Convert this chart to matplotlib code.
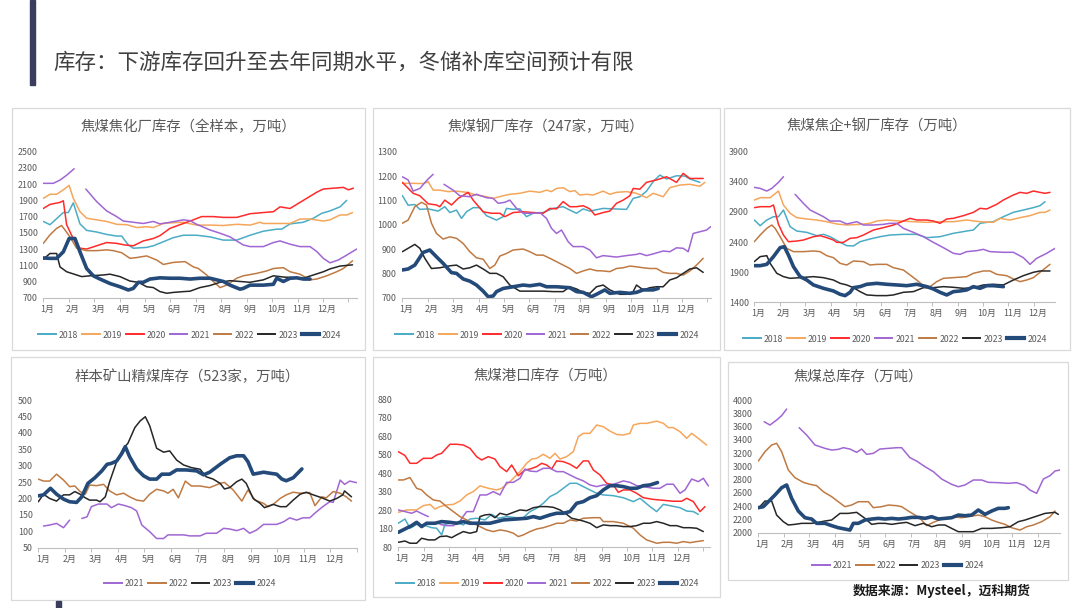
import numpy as np
import matplotlib
matplotlib.use("Agg")
import matplotlib.pyplot as plt
from matplotlib.patches import Rectangle
from matplotlib.lines import Line2D

plt.rcParams['font.family'] = ['Noto Sans CJK SC', 'DejaVu Sans']

# ---------------- DATA (day of year, value); None = gap ----------------
months = ["1月", "2月", "3月", "4月", "5月", "6月", "7月", "8月", "9月", "10月", "11月", "12月"]
years7 = ["2018", "2019", "2020", "2021", "2022", "2023", "2024"]
years4 = ["2021", "2022", "2023", "2024"]

# Panel 1: 焦煤焦化厂库存（全样本，万吨）
p1_2018 = [(0,1640),(8,1600),(24,1750),(30,1750),(36,1870),(44,1610),(52,1530),(64,1510),(76,1480),(88,1460),(94,1460),(102,1350),(108,1310),(124,1320),(132,1340),(144,1390),(156,1440),(168,1470),(184,1470),(200,1450),(216,1410),(232,1410),(248,1470),(264,1520),(280,1545),(286,1545),(296,1610),(312,1630),(324,1680),(334,1740),(344,1770),(356,1820),(364,1900)]
p1_2019 = [(0,1925),(8,1975),(16,1975),(24,2030),(31,2085),(36,1925),(44,1760),(52,1680),(64,1660),(76,1640),(88,1605),(100,1600),(112,1565),(124,1575),(132,1565),(144,1615),(156,1625),(168,1630),(184,1595),(200,1595),(216,1590),(232,1605),(248,1595),(260,1630),(264,1615),(280,1615),(296,1615),(308,1670),(320,1670),(336,1645),(344,1660),(356,1720),(364,1720),(371,1750)]
p1_2020 = [(0,1800),(8,1850),(20,1875),(24,1895),(28,1600),(34,1470),(40,1350),(44,1310),(52,1300),(64,1340),(76,1380),(88,1370),(98,1350),(108,1340),(120,1400),(132,1430),(140,1465),(152,1555),(168,1615),(180,1660),(190,1700),(204,1700),(216,1690),(232,1690),(248,1735),(264,1750),(276,1760),(284,1820),(296,1800),(308,1875),(316,1925),(328,2000),(336,2040),(348,2050),(360,2060),(366,2030),(372,2050)]
p1_2021 = [(0,2110),(12,2110),(20,2150),(28,2210),(37,2290),(44,None),(51,2040),(64,1885),(76,1770),(88,1700),(96,1645),(108,1630),(120,1615),(132,1640),(140,1610),(152,1630),(168,1660),(176,1650),(184,1605),(200,1535),(212,1495),(224,1450),(240,1350),(248,1330),(264,1330),(276,1380),(280,1390),(284,1400),(296,1360),(308,1330),(320,1330),(328,1270),(336,1185),(344,1130),(354,1165),(364,1225),(376,1300)]
p1_2022 = [(0,1370),(8,1475),(16,1555),(22,1590),(26,1535),(32,1450),(40,1310),(52,1280),(64,1280),(76,1290),(84,1280),(94,1255),(104,1185),(112,1195),(124,1215),(136,1165),(144,1110),(156,1135),(170,1145),(180,1080),(186,1060),(196,980),(204,900),(212,825),(220,855),(232,940),(240,970),(256,1000),(268,1030),(276,1060),(288,1070),(296,1020),(308,990),(320,920),(328,930),(340,970),(352,1020),(360,1060),(371,1155)]
p1_2023 = [(0,1175),(8,1245),(16,1245),(20,1080),(28,1020),(40,980),(46,960),(56,970),(72,980),(80,990),(92,960),(104,905),(114,890),(124,835),(132,825),(140,775),(148,755),(156,765),(168,775),(176,780),(188,825),(200,850),(212,890),(224,910),(236,900),(248,890),(264,920),(276,970),(288,955),(304,945),(312,940),(324,980),(336,1020),(344,1055),(356,1090),(371,1105)]
p1_2024 = [(0,1190),(8,1185),(16,1185),(24,1265),(31,1430),(38,1430),(44,1265),(52,1060),(60,970),(68,930),(80,875),(92,835),(102,795),(108,815),(114,890),(120,890),(128,930),(140,945),(152,940),(164,940),(176,930),(188,940),(200,940),(208,920),(216,900),(224,855),(236,805),(240,815),(248,855),(264,855),(276,865),(280,940),(288,900),(296,940),(304,945),(312,930),(320,930)]

# Panel 2: 焦煤钢厂库存（247家，万吨）
p2_2018 = [(0,1120),(7,1080),(15,1083),(21,1063),(31,1065),(43,1056),(51,1074),(57,1050),(65,1060),(71,1026),(77,1053),(85,1070),(93,1070),(101,1037),(113,1019),(121,1033),(125,1067),(133,1063),(141,1065),(149,1033),(157,1047),(169,1050),(181,1067),(193,1074),(201,1060),(209,1047),(217,1065),(225,1056),(241,1067),(253,1065),(269,1063),(277,1108),(285,1115),(293,1138),(301,1177),(309,1204),(317,1188),(329,1201),(339,1200),(345,1188),(357,1174)]
p2_2019 = [(0,1170),(13,1170),(25,1169),(31,1177),(37,1142),(45,1142),(55,1136),(65,1138),(77,1133),(89,1122),(101,1115),(109,1108),(121,1119),(129,1125),(141,1129),(153,1138),(165,1133),(173,1142),(179,1136),(185,1149),(193,1152),(201,1136),(207,1140),(213,1122),(221,1125),(229,1122),(241,1138),(249,1125),(257,1133),(269,1136),(281,1129),(293,1111),(301,1129),(313,1115),(321,1152),(333,1163),(345,1166),(357,1158),(363,1174)]
p2_2020 = [(0,1174),(13,1129),(21,1119),(31,1086),(41,1081),(45,1074),(51,1101),(59,1081),(67,1108),(79,1133),(85,1101),(97,1053),(107,1047),(117,1047),(123,1033),(133,1050),(145,1053),(157,1050),(169,1047),(177,1067),(185,1065),(193,1095),(201,1074),(209,1074),(217,1078),(225,1065),(231,1040),(241,1050),(249,1056),(257,1088),(265,1101),(273,1119),(277,1149),(285,1146),(293,1174),(305,1184),(317,1197),(329,1174),(337,1211),(345,1190),(361,1190)]
p2_2021 = [(0,1197),(7,1184),(13,1138),(21,1149),(31,1188),(37,1207),(44,None),(50,1166),(61,1142),(69,1119),(81,1115),(89,1125),(101,1111),(109,1108),(115,1088),(123,1092),(129,1101),(137,1067),(145,1047),(157,1047),(165,1050),(173,1026),(179,985),(185,964),(191,978),(199,930),(205,910),(217,910),(225,896),(233,864),(241,873),(257,867),(269,873),(281,878),(285,882),(293,873),(301,880),(313,892),(321,889),(329,905),(337,903),(343,889),(349,964),(357,971),(365,978),(370,992)]
p2_2022 = [(0,1006),(7,1019),(15,1074),(23,1092),(29,1081),(35,1006),(41,964),(49,941),(57,950),(65,944),(73,923),(81,889),(89,864),(97,858),(105,820),(111,834),(117,871),(125,882),(133,896),(145,900),(153,889),(161,875),(169,875),(177,862),(185,848),(193,834),(201,820),(209,800),(217,810),(225,818),(233,811),(241,810),(249,807),(257,820),(265,823),(273,830),(281,827),(289,823),(297,820),(305,820),(313,804),(321,800),(329,800),(337,793),(345,810),(353,834),(361,862)]
p2_2023 = [(0,889),(7,903),(15,919),(21,903),(27,862),(35,820),(45,823),(57,831),(65,834),(73,818),(81,823),(89,834),(97,818),(105,800),(113,800),(121,786),(129,752),(141,727),(153,727),(169,727),(181,725),(193,725),(201,745),(209,736),(217,722),(225,718),(233,745),(241,752),(249,732),(261,714),(269,714),(277,725),(281,752),(289,732),(297,741),(305,745),(313,745),(321,773),(329,782),(337,800),(345,818),(353,823),(361,804)]
p2_2024 = [(0,814),(7,818),(15,834),(25,886),(33,896),(41,868),(49,841),(59,803),(65,800),(73,777),(81,768),(89,752),(97,727),(103,704),(109,707),(113,725),(121,738),(133,745),(145,752),(153,749),(165,755),(173,745),(185,745),(201,741),(209,725),(217,722),(227,704),(233,714),(243,732),(249,718),(261,722),(273,718),(281,722),(289,732),(301,732),(307,738)]

# Panel 3: 焦煤焦企+钢厂库存（万吨）
p3_2018 = [(0,2766),(7,2672),(15,2766),(23,2821),(29,2821),(35,2932),(43,2655),(51,2583),(63,2561),(75,2506),(83,2528),(91,2489),(103,2395),(111,2340),(119,2335),(127,2406),(139,2451),(151,2489),(163,2517),(179,2528),(195,2528),(207,2473),(223,2489),(239,2545),(255,2583),(263,2600),(271,2711),(279,2727),(287,2738),(299,2821),(311,2893),(323,2932),(335,2971),(343,3004),(349,3070)]
p3_2019 = [(0,3098),(7,3136),(19,3136),(29,3247),(35,3015),(43,2877),(51,2805),(63,2783),(75,2766),(87,2738),(99,2700),(111,2683),(127,2694),(139,2711),(147,2749),(159,2766),(175,2749),(191,2738),(207,2727),(223,2738),(239,2738),(255,2766),(271,2738),(287,2727),(295,2794),(307,2766),(319,2805),(331,2838),(343,2893),(349,2893),(355,2932)]
p3_2020 = [(0,2971),(7,2987),(19,2987),(23,3015),(29,2694),(35,2517),(41,2406),(51,2417),(59,2434),(71,2489),(79,2506),(87,2473),(95,2434),(99,2395),(107,2395),(115,2462),(123,2473),(131,2517),(143,2600),(155,2639),(167,2683),(179,2749),(187,2794),(195,2766),(207,2766),(215,2749),(223,2711),(231,2783),(239,2794),(251,2838),(263,2893),(271,2960),(279,2949),(291,3026),(299,3098),(311,3181),(319,3225),(327,3209),(335,3247),(343,3225),(349,3209),(355,3225)]
p3_2021 = [(0,3308),(7,3291),(15,3247),(21,3291),(29,3391),(35,3485),(42,None),(49,3192),(59,3042),(67,2932),(75,2877),(83,2821),(91,2749),(103,2749),(111,2700),(123,2738),(131,2683),(143,2683),(155,2694),(163,2711),(171,2711),(179,2628),(191,2561),(203,2489),(215,2395),(227,2307),(239,2213),(247,2196),(255,2241),(267,2257),(275,2279),(283,2241),(299,2230),(311,2230),(323,2141),(331,2030),(339,2130),(351,2213),(361,2296)]
p3_2022 = [(0,2406),(7,2517),(15,2628),(21,2683),(25,2628),(31,2489),(39,2296),(47,2241),(59,2241),(71,2252),(79,2241),(87,2174),(95,2141),(103,2047),(111,2019),(119,2086),(131,2075),(139,2019),(147,2030),(159,2030),(167,1975),(179,1936),(187,1853),(195,1770),(203,1676),(211,1660),(219,1743),(227,1798),(239,1809),(255,1826),(263,1881),(275,1920),(283,1920),(291,1864),(303,1842),(311,1787),(319,1743),(327,1770),(335,1809),(343,1898),(355,2030)]
p3_2023 = [(0,2075),(7,2158),(15,2174),(19,2047),(27,1881),(35,1826),(43,1798),(55,1809),(71,1826),(83,1809),(95,1770),(103,1715),(111,1688),(119,1643),(127,1577),(135,1522),(147,1511),(159,1511),(167,1522),(179,1566),(191,1577),(203,1643),(215,1643),(227,1660),(239,1649),(251,1632),(263,1643),(275,1688),(287,1699),(299,1688),(311,1770),(323,1842),(335,1898),(343,1920),(355,1920)]
p3_2024 = [(0,2008),(7,2008),(15,2030),(23,2158),(31,2307),(36,2323),(41,2185),(47,1992),(55,1826),(63,1770),(71,1688),(83,1632),(95,1588),(103,1533),(109,1511),(115,1566),(119,1643),(127,1660),(135,1699),(147,1715),(159,1699),(171,1688),(183,1676),(195,1699),(207,1660),(215,1621),(223,1566),(231,1522),(239,1577),(247,1588),(255,1605),(263,1660),(271,1632),(279,1676),(287,1676),(299,1660)]

# Panel 4: 样本矿山精煤库存（523家，万吨）
p4_2021 = [(6,116),(13,119),(21,124),(29,111),(36,134),(43,None),(50,139),(56,144),(61,175),(69,183),(79,183),(84,172),(92,183),(100,178),(107,172),(113,162),(119,119),(128,99),(136,78),(144,78),(149,89),(159,89),(167,89),(174,86),(186,86),(193,94),(205,94),(213,109),(220,107),(228,102),(236,109),(243,94),(251,104),(259,121),(266,121),(274,121),(282,129),(289,141),(297,134),(304,141),(312,141),(320,160),(327,175),(335,190),(339,188),(347,256),(352,243),(358,253),(366,248)]
p4_2022 = [(0,259),(6,253),(13,253),(21,274),(29,256),(36,236),(42,238),(48,221),(54,213),(59,241),(67,239),(75,243),(82,223),(90,211),(98,216),(105,205),(113,195),(121,192),(128,213),(136,228),(144,223),(149,216),(155,228),(161,202),(169,253),(176,238),(186,238),(197,233),(209,246),(214,249),(224,226),(234,192),(241,226),(249,195),(259,185),(264,175),(270,182),(278,200),(285,211),(293,219),(301,216),(312,218),(318,178),(326,205),(331,202),(339,221),(347,216),(354,205),(360,192)]
p4_2023 = [(0,190),(6,213),(13,200),(21,192),(29,211),(36,211),(42,221),(48,213),(54,202),(59,195),(67,195),(71,190),(77,205),(82,251),(90,312),(98,353),(103,368),(111,416),(117,436),(123,449),(128,422),(136,353),(144,341),(151,345),(159,317),(167,302),(176,294),(186,289),(193,266),(201,259),(209,246),(214,229),(220,233),(228,251),(234,259),(239,246),(247,200),(255,185),(260,172),(270,182),(278,175),(285,175),(293,195),(301,213),(308,219),(316,211),(326,202),(335,192),(343,200),(350,211),(352,223),(360,205)]
p4_2024 = [(0,208),(6,211),(14,231),(21,213),(29,198),(36,190),(44,188),(50,205),(57,246),(65,263),(73,284),(79,304),(84,307),(90,314),(96,337),(100,358),(105,327),(113,290),(121,269),(128,259),(136,259),(142,274),(151,274),(159,287),(170,287),(182,284),(190,272),(197,280),(209,304),(220,324),(228,330),(236,330),(241,312),(247,274),(259,280),(266,277),(274,274),(280,259),(285,254),(293,263),(303,290)]

# Panel 5: 焦煤港口库存（万吨）
p5_2018 = [(0,210),(8,233),(14,183),(22,204),(30,201),(40,186),(46,183),(52,147),(56,204),(62,210),(70,215),(78,201),(86,233),(94,237),(104,228),(112,258),(120,237),(130,246),(142,240),(150,240),(158,273),(166,291),(174,318),(182,354),(190,372),(198,399),(206,426),(214,426),(222,408),(230,390),(238,372),(246,363),(258,359),(270,348),(282,327),(290,345),(302,300),(310,273),(318,312),(326,305),(338,294),(346,276),(354,273),(360,258)]
p5_2019 = [(0,269),(10,282),(22,282),(30,305),(38,312),(44,287),(50,300),(58,309),(66,312),(74,330),(82,363),(90,381),(98,412),(108,399),(118,390),(124,399),(134,435),(146,489),(154,534),(160,557),(166,561),(174,583),(182,561),(188,588),(194,557),(202,570),(210,597),(216,678),(222,696),(230,696),(238,741),(246,732),(254,708),(262,690),(270,687),(278,696),(282,741),(290,750),(298,750),(310,762),(318,750),(324,727),(330,727),(338,705),(346,669),(352,696),(360,669),(366,647),(370,633)]
p5_2020 = [(0,597),(8,576),(14,534),(22,534),(30,561),(40,561),(46,579),(52,588),(62,637),(70,637),(78,633),(86,615),(94,570),(100,552),(108,570),(116,557),(122,516),(130,489),(136,525),(144,467),(152,498),(158,503),(166,516),(172,534),(178,525),(184,503),(190,547),(198,543),(206,529),(214,507),(222,547),(228,547),(234,498),(242,471),(250,426),(258,417),(264,377),(270,390),(278,390),(286,372),(294,348),(306,339),(318,334),(330,329),(340,329),(346,345),(354,327),(362,273),(368,300)]
p5_2021 = [(0,282),(8,273),(16,264),(22,276),(30,258),(36,246),(43,None),(50,204),(58,197),(66,197),(74,222),(82,273),(90,273),(98,363),(106,363),(114,381),(122,363),(130,431),(138,431),(146,453),(152,503),(158,492),(166,489),(174,507),(182,507),(190,489),(198,489),(206,471),(214,453),(222,439),(230,417),(238,408),(246,417),(254,417),(262,426),(270,439),(278,431),(286,413),(294,408),(306,399),(314,399),(322,421),(330,421),(338,372),(344,390),(352,449),(360,435),(366,453),(372,412)]
p5_2022 = [(0,444),(6,444),(14,457),(22,399),(28,390),(34,363),(42,336),(50,330),(58,300),(66,273),(74,246),(82,228),(90,210),(98,192),(106,174),(114,165),(122,174),(130,168),(138,156),(144,138),(150,147),(158,165),(166,179),(174,186),(182,197),(190,210),(198,210),(206,228),(214,222),(222,237),(234,240),(242,240),(246,219),(258,219),(270,210),(282,183),(290,147),(298,120),(310,102),(318,107),(326,107),(334,102),(342,111),(350,105),(358,111),(366,116)]
p5_2023 = [(0,107),(8,114),(14,102),(22,102),(28,129),(36,120),(44,120),(50,138),(58,141),(64,132),(70,147),(78,165),(86,156),(94,165),(98,246),(104,255),(110,258),(116,240),(122,264),(130,255),(138,269),(146,282),(154,278),(162,294),(170,300),(178,300),(186,296),(194,282),(202,258),(208,237),(214,231),(222,222),(230,210),(238,186),(246,201),(254,197),(262,197),(270,192),(278,192),(286,197),(294,210),(302,210),(310,219),(318,210),(326,197),(334,197),(342,186),(350,186),(358,183),(366,165)]
p5_2024 = [(0,161),(8,179),(16,197),(22,215),(28,192),(34,210),(44,210),(52,219),(62,215),(70,210),(78,219),(86,210),(94,210),(102,210),(110,210),(118,219),(126,228),(142,233),(154,237),(162,246),(170,237),(182,255),(190,264),(198,264),(206,273),(214,318),(222,327),(230,348),(238,359),(246,390),(254,413),(262,413),(270,408),(278,399),(286,399),(294,413),(302,417),(311,430)]

# Panel 6: 焦煤总库存（万吨）
p6_2021 = [(7,3673),(14,3623),(22,3698),(28,3764),(34,3864),(41,None),(49,3583),(58,3472),(68,3322),(80,3271),(88,3246),(96,3256),(102,3281),(110,3261),(118,3211),(124,3261),(130,3181),(138,3196),(146,3261),(156,3271),(166,3281),(172,3281),(182,3130),(190,3080),(200,2995),(210,2920),(220,2809),(232,2729),(240,2693),(248,2719),(258,2794),(268,2794),(276,2759),(288,2754),(300,2744),(310,2754),(320,2709),(326,2643),(334,2593),(342,2809),(350,2859),(356,2930),(362,2945)]
p6_2022 = [(0,3080),(8,3221),(16,3322),(22,3347),(28,3221),(36,2945),(44,2829),(54,2759),(62,2729),(70,2709),(78,2618),(88,2543),(96,2467),(104,2392),(112,2417),(120,2467),(132,2467),(138,2377),(148,2392),(156,2417),(166,2407),(172,2392),(180,2327),(188,2266),(196,2191),(202,2106),(210,2156),(220,2206),(232,2241),(244,2226),(252,2241),(264,2266),(272,2241),(280,2191),(288,2156),(296,2126),(304,2075),(314,2040),(322,2090),(330,2116),(340,2166),(350,2241),(356,2327)]
p6_2023 = [(0,2367),(8,2477),(16,2477),(22,2266),(30,2166),(36,2116),(44,2126),(52,2141),(64,2141),(72,2156),(80,2176),(88,2191),(98,2291),(108,2291),(118,2307),(128,2216),(136,2126),(144,2141),(152,2141),(160,2126),(168,2141),(178,2156),(188,2106),(198,2141),(208,2090),(216,2116),(224,2116),(232,2065),(240,2015),(248,2015),(258,2015),(268,2065),(280,2065),(292,2075),(302,2090),(312,2166),(320,2191),(332,2241),(344,2291),(356,2307),(360,2276)]
p6_2024 = [(0,2377),(6,2392),(12,2467),(20,2568),(28,2678),(34,2719),(40,2518),(48,2327),(56,2226),(64,2206),(70,2141),(80,2141),(88,2106),(96,2075),(104,2055),(110,2040),(114,2141),(120,2141),(128,2191),(136,2206),(144,2216),(152,2206),(160,2216),(168,2206),(176,2216),(184,2231),(192,2231),(200,2216),(208,2241),(216,2206),(224,2216),(232,2226),(240,2266),(248,2256),(256,2266),(264,2342),(272,2276),(280,2327),(288,2367),(296,2367),(300,2377)]

titles = ["焦煤焦化厂库存（全样本，万吨）", "焦煤钢厂库存（247家，万吨）", "焦煤焦企+钢厂库存（万吨）",
          "样本矿山精煤库存（523家，万吨）", "焦煤港口库存（万吨）", "焦煤总库存（万吨）"]
main_title = "库存：下游库存回升至去年同期水平，冬储补库空间预计有限"
source_text = "数据来源：Mysteel，迈科期货"

# ---------------- STYLE ----------------
W, H = 1080, 608
colors = {"2018": "#4bacc6", "2019": "#f5a65b", "2020": "#ff2a2a", "2021": "#a066d3",
          "2022": "#bf7a43", "2023": "#262626", "2024": "#244a7a"}
widths = {y: 1.1 for y in colors}
widths["2024"] = 2.6
txt_gray = "#595959"

fig = plt.figure(figsize=(W / 100, H / 100), dpi=100)
fig.patch.set_facecolor("white")


def frac_rect(x0, y0, x1, y1):
    return [x0 / W, 1 - y1 / H, (x1 - x0) / W, (y1 - y0) / H]


def unpack(pairs):
    xs = [p[0] for p in pairs]
    ys = [np.nan if p[1] is None else p[1] for p in pairs]
    return xs, ys


# panel layout: border box, plot area, title center, legend center, xlim, ylim, yticks
panels = [
    dict(box=(12, 108, 365, 350), area=(43.3, 151.7, 356.7, 297.7), title=(188, 127), leg=(190, 335),
         xmax=376, ylim=(700, 2500), yt=np.arange(700, 2501, 200),
         series=[p1_2018, p1_2019, p1_2020, p1_2021, p1_2022, p1_2023, p1_2024], years=years7),
    dict(box=(373, 108, 720, 350), area=(402.3, 151.7, 710.7, 297.7), title=(546, 127), leg=(547, 335),
         xmax=370, ylim=(700, 1300), yt=np.arange(700, 1301, 100),
         series=[p2_2018, p2_2019, p2_2020, p2_2021, p2_2022, p2_2023, p2_2024], years=years7),
    dict(box=(724, 108, 1070, 350), area=(754.3, 151.7, 1055, 302.3), title=(877, 127), leg=(895, 339),
         xmax=361, ylim=(1400, 3900), yt=np.arange(1400, 3901, 500),
         series=[p3_2018, p3_2019, p3_2020, p3_2021, p3_2022, p3_2023, p3_2024], years=years7),
    dict(box=(11, 357, 365, 600), area=(38.3, 400, 356.7, 547.7), title=(187, 377), leg=(190, 584),
         xmax=366, ylim=(50, 500), yt=np.arange(50, 501, 50),
         series=[p4_2021, p4_2022, p4_2023, p4_2024], years=years4),
    dict(box=(373, 357, 720, 597), area=(398.3, 399.3, 710, 547.3), title=(545, 376), leg=(548, 584),
         xmax=374, ylim=(80, 880), yt=np.arange(80, 881, 100),
         series=[p5_2018, p5_2019, p5_2020, p5_2021, p5_2022, p5_2023, p5_2024], years=years7),
    dict(box=(728, 362, 1068, 580), area=(758.3, 400, 1060, 532.7), title=(858, 377), leg=(898, 566),
         xmax=362, ylim=(2000, 4000), yt=np.arange(2000, 4001, 200),
         series=[p6_2021, p6_2022, p6_2023, p6_2024], years=years4),
]

label_pos = [5 + 30.5 * k for k in range(12)]
tick_pos = [30.5 * k for k in range(13)]

for i, p in enumerate(panels):
    bx0, by0, bx1, by1 = p["box"]
    fig.patches.append(Rectangle((bx0 / W, 1 - by1 / H), (bx1 - bx0) / W, (by1 - by0) / H,
                                 transform=fig.transFigure, fill=False, edgecolor="#d9d9d9", lw=0.9, zorder=0))
    ax = fig.add_axes(frac_rect(*p["area"]))
    ax.set_facecolor("none")
    handles = []
    for yr, ser in zip(p["years"], p["series"]):
        xs, ys = unpack(ser)
        ax.plot(xs, ys, color=colors[yr], lw=widths[yr], solid_joinstyle="round", solid_capstyle="round")
        handles.append(Line2D([], [], color=colors[yr], lw=widths[yr] + (0.4 if yr == "2024" else 0.3)))
    ax.set_xlim(0, p["xmax"])
    ax.set_ylim(*p["ylim"])
    ax.set_yticks(p["yt"])
    ax.set_yticklabels([str(v) for v in p["yt"]])
    ax.set_xticks(label_pos)
    ax.set_xticklabels(months)
    ax.set_xticks([t for t in tick_pos if t <= p["xmax"]], minor=True)
    ax.tick_params(axis="x", which="major", length=0, pad=5, labelsize=6.4, labelcolor=txt_gray)
    ax.tick_params(axis="x", which="minor", length=3, color="#bfbfbf", width=0.7)
    ax.tick_params(axis="y", length=0, pad=4, labelsize=6.4, labelcolor=txt_gray)
    for s in ["top", "right", "left"]:
        ax.spines[s].set_visible(False)
    ax.spines["bottom"].set_color("#bfbfbf")
    ax.spines["bottom"].set_linewidth(0.8)
    fig.text(p["title"][0] / W, 1 - p["title"][1] / H, titles[i], ha="center", va="center",
             fontsize=10.4, color=txt_gray)
    fig.legend(handles, p["years"], loc="center", bbox_to_anchor=(p["leg"][0] / W, 1 - p["leg"][1] / H),
               ncol=len(p["years"]), frameon=False, fontsize=6.3, handlelength=2.0, handletextpad=0.35,
               columnspacing=0.45, labelcolor=txt_gray)

# header decorations
fig.patches.append(Rectangle((29.5 / W, 1 - 85 / H), 5.5 / W, 85 / H, transform=fig.transFigure,
                             color="#3a3d5c", zorder=0))
fig.patches.append(Rectangle((56 / W, 0), 5 / W, 7.5 / H, transform=fig.transFigure,
                             color="#3a3d5c", zorder=0))
fig.text(53 / W, 1 - 63 / H, main_title, ha="left", va="center", fontsize=15.5, color="#404040")
fig.text(853 / W, 1 - 591 / H, source_text, ha="left", va="center", fontsize=9.3,
         fontweight="bold", color="#1a1a1a")

fig.savefig("out.png", dpi=100, facecolor="white")
